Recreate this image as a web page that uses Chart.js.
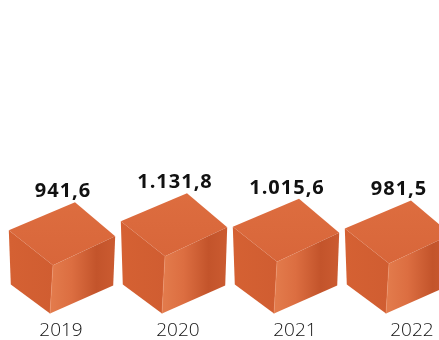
<!DOCTYPE html>
<html lang="de">
<head>
  <meta charset="UTF-8" />
  <title>Cubes 2019-2022</title>
  <script src="https://cdn.jsdelivr.net/npm/chart.js"></script>
  <style>
    html, body {
      margin: 0;
      padding: 0;
      background: #ffffff;
      overflow: hidden;
    }

    /* a bit wider and taller than the window, the last cube is cut off */
    .wrap {
      position: relative;
      width: 460px;
      height: 347px;
    }
  </style>
</head>
<body>
  <div class="wrap">
    <canvas id="cubeChart"></canvas>
  </div>

  <script>
    // data
    const years = ["2019", "2020", "2021", "2022"];
    const values = [941.6, 1131.8, 1015.6, 981.5];

    // German style number: 1.131,8
    function fmt(v) {
      const parts = v.toFixed(1).split(".");
      const intPart = parts[0].replace(/\B(?=(\d{3})+(?!\d))/g, ".");
      return intPart + "," + parts[1];
    }

    // draws each bar as a cube, using the bar element geometry
    const cubePlugin = {
      id: "cubes",
      afterDatasetsDraw(chart) {
        const ctx = chart.ctx;
        const yScale = chart.scales.y;
        const base = yScale.getPixelForValue(yScale.min);
        const meta = chart.getDatasetMeta(0);

        meta.data.forEach((bar, i) => {
          const hw = bar.width / 2;
          const cx = bar.x;
          const top = bar.y;
          const L = cx - hw;
          const R = cx + hw;

          const tv = [cx + 13, top];
          const lc = [L, top + 28];
          const rc = [R, top + 34];
          const iv = [cx - 9, top + 63];
          const lb = [L + 2, base - 29];
          const rb = [R - 2, base - 28];
          const bv = [cx - 12, base];

          function face(pts, fill) {
            ctx.beginPath();
            ctx.moveTo(pts[0][0], pts[0][1]);
            for (let k = 1; k < pts.length; k++) ctx.lineTo(pts[k][0], pts[k][1]);
            ctx.closePath();
            ctx.fillStyle = fill;
            ctx.fill();
          }

          ctx.save();

          // top face
          const gTop = ctx.createLinearGradient(cx, top, cx, iv[1]);
          gTop.addColorStop(0, "#dd6d3f");
          gTop.addColorStop(1, "#d8663a");
          face([lc, tv, rc, iv], gTop);

          // left face
          const gLeft = ctx.createLinearGradient(L, 0, iv[0], 0);
          gLeft.addColorStop(0, "#d56133");
          gLeft.addColorStop(1, "#d05d31");
          face([lc, iv, bv, lb], gLeft);

          // right face
          const gRight = ctx.createLinearGradient(iv[0], 0, R, 0);
          gRight.addColorStop(0, "#e27a4b");
          gRight.addColorStop(0.3, "#dc6e41");
          gRight.addColorStop(0.7, "#c3542b");
          gRight.addColorStop(1, "#cb5b31");
          face([iv, rc, rb, bv], gRight);

          // light inner edge
          ctx.strokeStyle = "rgba(240,150,110,0.5)";
          ctx.lineWidth = 1;
          ctx.beginPath();
          ctx.moveTo(iv[0], iv[1]);
          ctx.lineTo(bv[0], bv[1]);
          ctx.stroke();

          // value label
          ctx.font = "700 20px 'Open Sans', sans-serif";
          ctx.letterSpacing = "1px";
          ctx.fillStyle = "#111111";
          ctx.textAlign = "center";
          ctx.textBaseline = "alphabetic";
          ctx.fillText(fmt(values[i]), cx + 1, top - 5);

          ctx.restore();
        });
      }
    };

    new Chart(document.getElementById("cubeChart"), {
      type: "bar",
      data: {
        labels: years,
        datasets: [{
          data: values,
          backgroundColor: "rgba(0,0,0,0)",
          borderWidth: 0,
          categoryPercentage: 1,
          barPercentage: 0.95
        }]
      },
      options: {
        responsive: true,
        maintainAspectRatio: false,
        animation: false,
        layout: {
          padding: { left: 6, right: 6, top: 0, bottom: 0 }
        },
        plugins: {
          legend: { display: false },
          tooltip: { enabled: false }
        },
        scales: {
          x: {
            display: false
          },
          // second axis only for the year labels (bar defaults would add offset)
          x2: {
            type: "linear",
            position: "bottom",
            bounds: "data",
            offset: false,
            min: -0.47,
            max: 3.36,
            grid: { display: false, drawTicks: false, offset: false },
            border: { display: false },
            afterBuildTicks: (axis) => {
              axis.ticks = years.map((_, i) => ({ value: i }));
            },
            ticks: {
              padding: 11,
              color: "#111111",
              autoSkip: false,
              maxRotation: 0,
              font: { family: "'Open Sans', sans-serif", size: 19, weight: "300", lineHeight: 0.6 },
              callback: (v) => years[v] ?? ""
            }
          },
          y: {
            display: false,
            min: -1400,
            max: 5200
          }
        }
      },
      plugins: [cubePlugin]
    });
  </script>
</body>
</html>
